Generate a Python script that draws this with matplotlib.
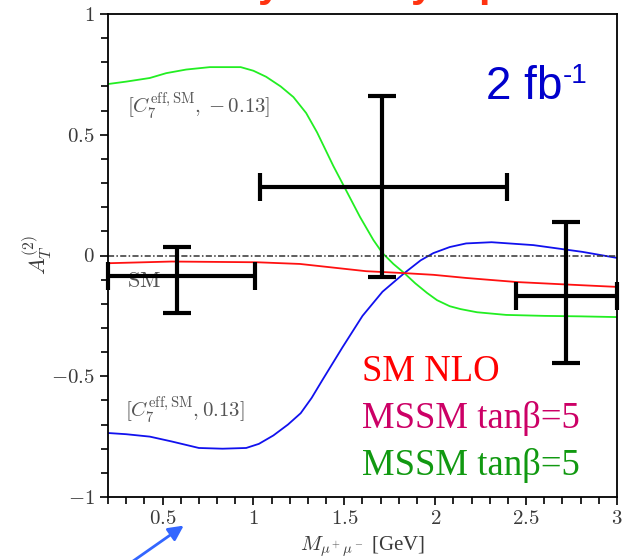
import matplotlib
matplotlib.use('Agg')
import matplotlib.pyplot as plt
from matplotlib.ticker import MultipleLocator

plt.rcParams['mathtext.fontset'] = 'cm'
plt.rcParams['font.family'] = ['Liberation Serif', 'DejaVu Serif']

# curves
green_x = [0.2, 0.3, 0.43, 0.52, 0.63, 0.76, 0.93, 1.0, 1.07, 1.15, 1.22, 1.29, 1.35, 1.44, 1.50,
           1.586, 1.66, 1.71, 1.77, 1.83, 1.89, 1.955, 2.01, 2.08, 2.14, 2.23, 2.39, 2.6, 2.8, 3.0]
green_y = [0.71, 0.72, 0.735, 0.755, 0.77, 0.78, 0.78, 0.765, 0.74, 0.70, 0.656, 0.59, 0.51, 0.37, 0.284,
           0.16, 0.064, 0.01, -0.035, -0.073, -0.115, -0.155, -0.185, -0.21, -0.222, -0.235, -0.246, -0.25, -0.252, -0.255]

blue_x = [0.2, 0.3, 0.43, 0.55, 0.7, 0.83, 0.96, 1.03, 1.11, 1.19, 1.26, 1.32, 1.38, 1.49, 1.60, 1.71,
          1.83, 1.92, 1.99, 2.08, 2.17, 2.31, 2.54, 2.81, 3.0]
blue_y = [-0.735, -0.74, -0.75, -0.77, -0.797, -0.80, -0.797, -0.78, -0.745, -0.70, -0.653, -0.59, -0.515,
          -0.38, -0.25, -0.15, -0.073, -0.02, 0.01, 0.035, 0.05, 0.055, 0.043, 0.015, -0.01]

red_x = [0.2, 0.55, 1.02, 1.256, 1.62, 1.83, 1.99, 2.17, 2.45, 2.72, 3.0]
red_y = [-0.032, -0.025, -0.028, -0.035, -0.065, -0.073, -0.08, -0.093, -0.11, -0.12, -0.13]

# pseudo data points with errors
pt_x = [0.58, 1.71, 2.72]
pt_y = [-0.085, 0.283, -0.168]
pt_xlo = [0.2, 1.036, 2.445]
pt_xhi = [1.01, 2.395, 3.0]
pt_ylo = [-0.238, -0.09, -0.445]
pt_yhi = [0.035, 0.66, 0.138]

x_ticks = [0.5, 1, 1.5, 2, 2.5, 3]
x_ticklabels = ['$0.5$', '$1$', '$1.5$', '$2$', '$2.5$', '$3$']
y_ticks = [-1, -0.5, 0, 0.5, 1]
y_ticklabels = ['$-1$', '$-0.5$', '$0$', '$0.5$', '$1$']

legend_lines = ['SM NLO', 'MSSM tan\u03b2=5', 'MSSM tan\u03b2=5']
legend_colors = ['#ff0000', '#cc0066', '#119911']
legend_y = [-0.52, -0.715, -0.91]

fig = plt.figure(figsize=(6.23, 5.6), dpi=100)
ax = fig.add_axes([108/623, 1 - 497/560, (617-108)/623, (497-14)/560])

ax.plot(green_x, green_y, color='#22ee22', lw=1.3)
ax.plot(blue_x, blue_y, color='#1111ee', lw=1.3)
ax.plot(red_x, red_y, color='#ff1111', lw=1.3)
ax.axhline(0, color='#333333', lw=1.1, ls=(0, (4, 1.5, 1, 1.5)))

xerr = [[c - lo for c, lo in zip(pt_x, pt_xlo)], [hi - c for c, hi in zip(pt_x, pt_xhi)]]
yerr = [[c - lo for c, lo in zip(pt_y, pt_ylo)], [hi - c for c, hi in zip(pt_y, pt_yhi)]]
ax.errorbar(pt_x, pt_y, xerr=xerr, yerr=yerr, fmt='none', ecolor='black',
            elinewidth=3, capsize=10, capthick=3, clip_on=False, zorder=5)

ax.set_xlim(0.2, 3.0)
ax.set_ylim(-1, 1)
ax.set_xticks(x_ticks)
ax.set_xticklabels(x_ticklabels)
ax.set_yticks(y_ticks)
ax.set_yticklabels(y_ticklabels)
ax.xaxis.set_minor_locator(MultipleLocator(0.1))
ax.yaxis.set_minor_locator(MultipleLocator(0.1))
ax.tick_params(which='both', direction='out', top=False, right=False,
               labelsize=15, labelcolor='#3a3a3a', width=1.2)
ax.tick_params(which='major', length=6)
ax.tick_params(which='minor', length=5)
for s in ax.spines.values():
    s.set_linewidth(1.3)

ax.set_xlabel(r'$M_{\mu^+\mu^-}$ [GeV]', fontsize=15, color='#3a3a3a', labelpad=4)
ax.text(-0.14, 0.5, r'$A_T^{(2)}$', transform=ax.transAxes, rotation=90,
        ha='center', va='center', fontsize=16, color='#3a3a3a')

ax.text(0.305, 0.59, r'$[C_7^{\rm eff,SM}, -0.13]$', fontsize=15, color='#555555', va='baseline')
ax.text(0.295, -0.67, r'$[C_7^{\rm eff,SM}, 0.13]$', fontsize=15, color='#555555', va='baseline')
ax.text(0.305, -0.11, r'$\rm SM$', fontsize=16, color='#555555', va='center')

for t, c, yy in zip(legend_lines, legend_colors, legend_y):
    ax.text(1.597, yy, t, fontsize=26.5, color=c, va='baseline')

ax.text(2.279, 0.648, '2 fb', fontsize=33, color='#0000cc', va='baseline',
        family=['Liberation Sans', 'DejaVu Sans'])
ax.text(2.703, 0.714, '-1', fontsize=20, color='#0000cc', va='baseline',
        family=['Liberation Sans', 'DejaVu Sans'])

# cut-off title above the frame: only the descenders show
for xp, ch in zip([258, 411, 478], ['y', 'y', 'p']):
    fig.text(xp / 623, 1.0 + 4 / 560, ch, fontsize=30, color='#ff3311', va='baseline',
             fontweight='bold', family=['Liberation Sans', 'DejaVu Sans'])

# blue pointer arrow
ax.annotate('', xy=(186, 36), xycoords='figure pixels', xytext=(126, -6),
            textcoords='figure pixels',
            arrowprops=dict(arrowstyle='-|>,head_length=0.9,head_width=0.45',
                            color='#3366ff', lw=2))

fig.savefig('out.png', dpi=100)
